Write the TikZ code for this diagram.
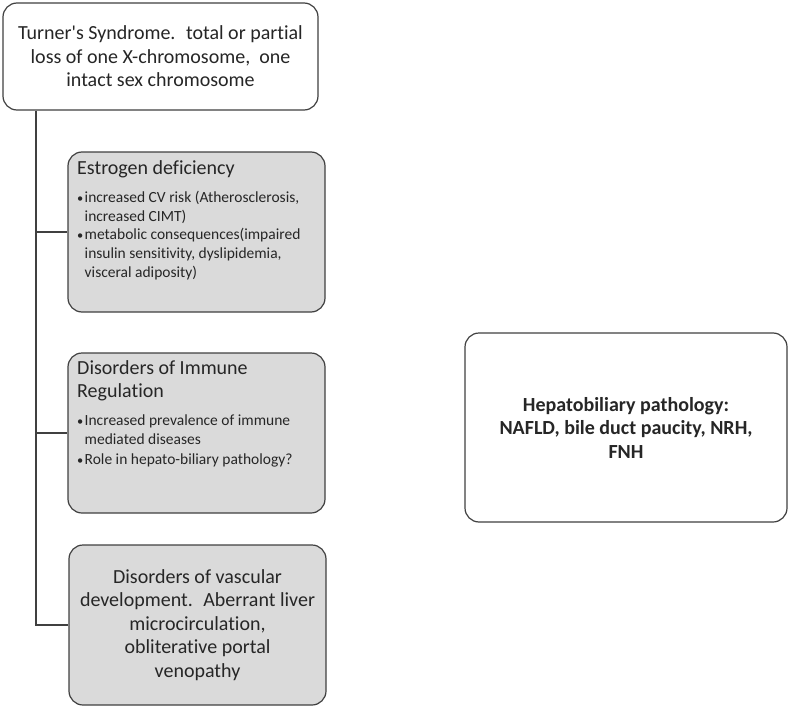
\documentclass[tikz,border=0pt]{standalone}
\usepackage{fontspec}
\setmainfont{Carlito}[Ligatures={TeX,NoCommon}]
\definecolor{edge}{HTML}{404040}
\definecolor{shade}{HTML}{DADADA}
\definecolor{ink}{HTML}{262626}
\tikzset{
  box/.style={draw=edge, line width=1.2pt, rounded corners=14pt, inner sep=0pt, text=ink},
  graybox/.style={box, fill=shade},
  bigtext/.style={font=\fontsize{20}{23.5}\selectfont, align=center},
  titletext/.style={font=\fontsize{20}{23}\selectfont, align=left, inner sep=0pt, anchor=north west, text=ink},
  bullettext/.style={font=\fontsize{15.5}{18.7}\selectfont, align=left, inner sep=0pt, anchor=north west, text=ink},
  link/.style={draw=edge, line width=1.2pt},
}
\newcommand{\bul}{\makebox[7.5pt][l]{\raisebox{0.5pt}{\scalebox{0.8}{\textbullet}}}}
\newcommand{\ind}{\hspace*{7.5pt}}
\begin{document}
\begin{tikzpicture}[x=1pt,y=-1pt]
\useasboundingbox (0,0) rectangle (790,709);
\node[box, fill=white, minimum width=315pt, minimum height=107pt, bigtext] (turner) at (160.5,56.5)
  {Turner\textquotesingle s Syndrome.~ total or partial\\loss of one X-chromosome,~ one\\intact sex chromosome};
\node[graybox, minimum width=257pt, minimum height=160pt] (est) at (196.5,232) {};
\node[titletext] (esttitle) at (77,160) {Estrogen deficiency};
\node[bullettext] (estlist) at (77,191)
  {\bul increased CV risk (Atherosclerosis,\\
   \ind increased CIMT)\\
   \bul metabolic consequences(impaired\\
   \ind insulin sensitivity, dyslipidemia,\\
   \ind visceral adiposity)};
\node[graybox, minimum width=257pt, minimum height=160pt] (imm) at (196.5,433) {};
\node[titletext] (immtitle) at (77,360) {Disorders of Immune\\Regulation};
\node[bullettext] (immlist) at (77,415)
  {\bul Increased prevalence of immune\\
   \ind mediated diseases\\[1.5pt]
   \bul Role in hepato-biliary pathology?};
\node[graybox, minimum width=257pt, minimum height=160pt, bigtext] (vasc) at (197.5,625)
  {Disorders of vascular\\development.~ Aberrant liver\\microcirculation,\\obliterative portal\\venopathy};
\node[box, fill=white, minimum width=322pt, minimum height=189pt, bigtext, font=\fontsize{20}{23.5}\selectfont\bfseries] (hep) at (626,427.5)
  {Hepatobiliary pathology:\\NAFLD, bile duct paucity, NRH,\\FNH};
\coordinate (trunk) at (36,0);
\draw[link] (trunk |- turner.south) -- (trunk |- vasc.west) -- (vasc.west);
\draw[link] (trunk |- est.west) -- (est.west);
\draw[link] (trunk |- imm.west) -- (imm.west);
\end{tikzpicture}
\end{document}
